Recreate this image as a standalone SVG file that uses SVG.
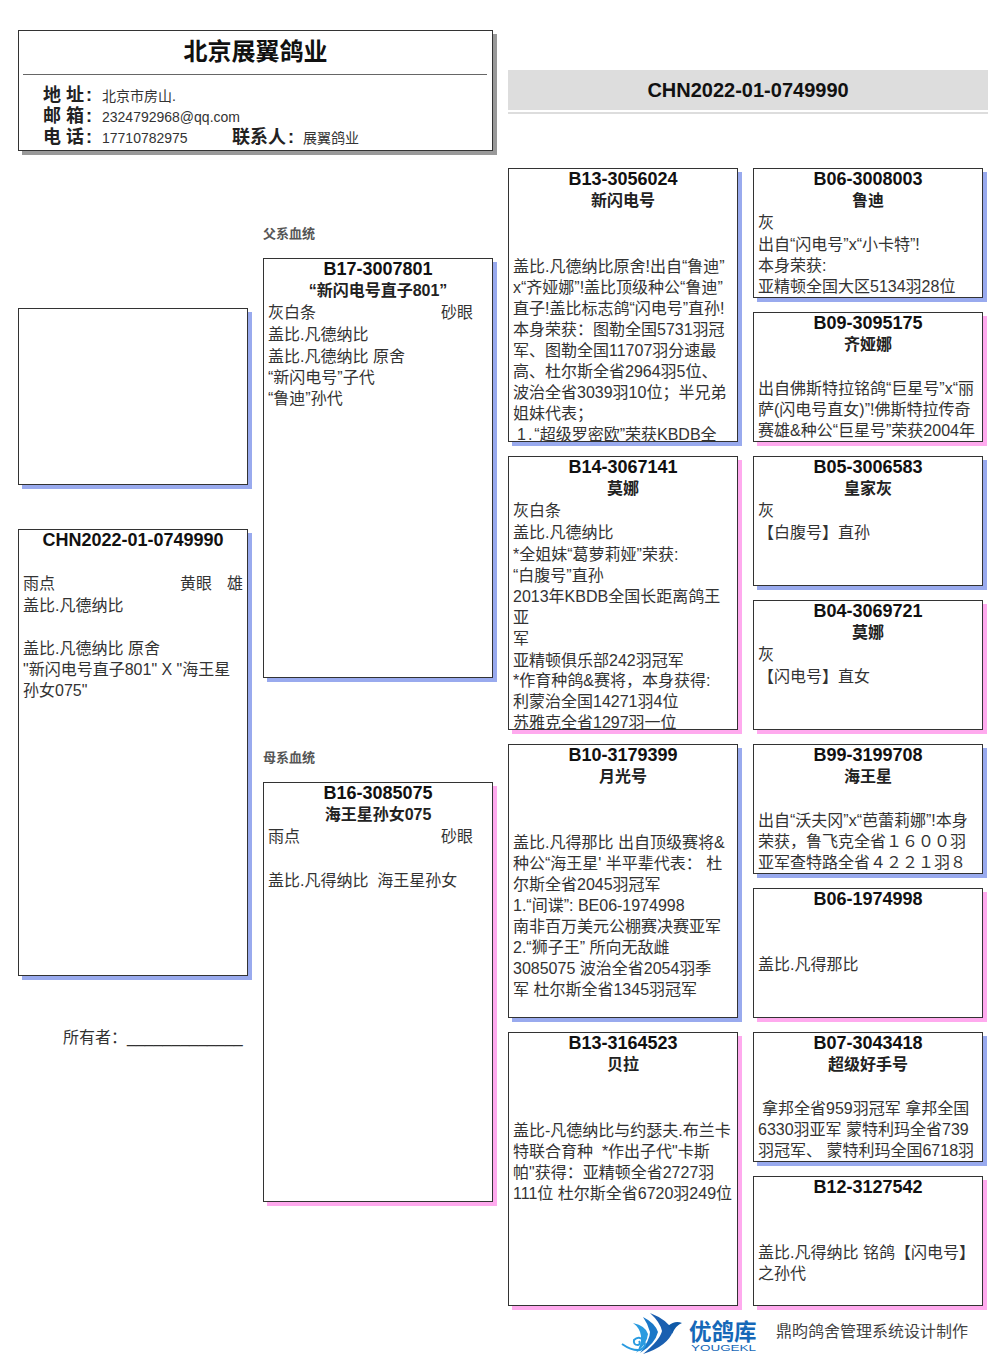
<svg xmlns="http://www.w3.org/2000/svg" width="1006" height="1366" viewBox="0 0 1006 1366">
<style>
text{font-family:"Liberation Sans","Noto Sans CJK SC",sans-serif;fill:#333}
.b{fill:#fff;stroke:#333;stroke-width:1}
.sb{fill:#99aaee}.sp{fill:#ffaaee}
.t{font-size:16px}
.h{font-size:18px;font-weight:700;text-anchor:middle;fill:#111}
.n{font-size:16px;font-weight:700;text-anchor:middle;fill:#222}
.l{font-size:13px;font-weight:700;fill:#555}
.k{font-size:18px;font-weight:700;fill:#222}
.v{font-size:14px;fill:#333}
</style>
<defs>
<clipPath id="c1"><rect x="509" y="169" width="228" height="272"/></clipPath>
<clipPath id="c2"><rect x="509" y="457" width="228" height="272"/></clipPath>
</defs>
<rect width="1006" height="1366" fill="#fff"/>
<g id="header">
<rect x="22" y="34" width="475" height="121" fill="#999"/>
<rect class="b" x="18.500" y="30.500" width="474" height="120"/>
<line x1="23" y1="74.500" x2="487" y2="74.500" stroke="#666"/>
<text x="255.500" y="60" text-anchor="middle" font-size="24" font-weight="700" style="fill:#111">北京展翼鸽业</text>
<text class="k" x="43" y="101" xml:space="preserve">地 址<tspan dx="2">:</tspan></text><text class="v" x="102" y="101">北京市房山.</text>
<text class="k" x="43" y="122" xml:space="preserve">邮 箱<tspan dx="2">:</tspan></text><text class="v" x="102" y="122">2324792968@qq.com</text>
<text class="k" x="43" y="143" xml:space="preserve">电 话<tspan dx="2">:</tspan></text><text class="v" x="102" y="143">17710782975</text>
<text class="k" x="232" y="143">联系人<tspan dx="2">:</tspan></text><text class="v" x="303" y="143">展翼鸽业</text>
</g>
<g id="ring-bar">
<rect x="508" y="70" width="480" height="40" fill="#ddd"/>
<rect x="508" y="112" width="480" height="2" fill="#ddd"/>
<text class="h" x="748" y="97" style="font-size:20px">CHN2022-01-0749990</text>
</g>
<g id="photo">
<rect class="sb" x="22" y="312" width="230" height="177"/>
<rect class="b" x="18.500" y="308.500" width="229" height="176"/>
</g>
<g id="self">
<rect class="sb" x="22" y="533" width="230" height="447"/>
<rect class="b" x="18.500" y="529.500" width="229" height="446"/>
<text class="h" x="133" y="546">CHN2022-01-0749990</text>
<text class="t" x="23" y="589">雨点</text><text class="t" x="180" y="589">黄眼</text><text class="t" x="227" y="589">雄</text>
<text class="t" x="23" y="611">盖比.凡德纳比</text>
<text class="t" x="23" y="654">盖比.凡德纳比 原舍</text>
<text class="t" x="23" y="675">"新闪电号直子801" X "海王星</text>
<text class="t" x="23" y="696">孙女075"</text>
</g>
<g id="owner"><text class="t" x="63" y="1043">所有者：</text><text class="t" x="127" y="1043">_____________</text></g>
<text class="l" x="263" y="238">父系血统</text>
<text class="l" x="263" y="762">母系血统</text>
<g id="B17-3007801">
<rect class="sb" x="267" y="262" width="230" height="420"/>
<rect class="b" x="263.500" y="258.500" width="229" height="419"/>
<text class="h" x="378" y="275">B17-3007801</text><text class="n" x="378" y="296">“新闪电号直子801”</text>
<text class="t" x="268" y="318">灰白条</text><text class="t" x="441" y="318">砂眼</text>
<text class="t" x="268" y="340">盖比.凡德纳比</text>
<text class="t" x="268" y="362">盖比.凡德纳比 原舍</text>
<text class="t" x="268" y="383">“新闪电号”子代</text>
<text class="t" x="268" y="404">“鲁迪”孙代</text>
</g>
<g id="B16-3085075">
<rect class="sp" x="267" y="786" width="230" height="420"/>
<rect class="b" x="263.500" y="782.500" width="229" height="419"/>
<text class="h" x="378" y="799">B16-3085075</text><text class="n" x="378" y="820">海王星孙女075</text>
<text class="t" x="268" y="842">雨点</text><text class="t" x="441" y="842">砂眼</text>
<text class="t" x="268" y="886" xml:space="preserve">盖比.凡得纳比  海王星孙女</text>
</g>
<g id="B13-3056024">
<rect class="sb" x="512" y="172" width="230" height="274"/>
<rect class="b" x="508.500" y="168.500" width="229" height="273"/>
<text class="h" x="623" y="185">B13-3056024</text><text class="n" x="623" y="206">新闪电号</text>
<g clip-path="url(#c1)">
<text class="t" x="513" y="272">盖比.凡德纳比原舍!出自“鲁迪”</text>
<text class="t" x="513" y="293">x“齐娅娜”!盖比顶级种公“鲁迪”</text>
<text class="t" x="513" y="314">直子!盖比标志鸽“闪电号”直孙!</text>
<text class="t" x="513" y="335">本身荣获：图勒全国5731羽冠</text>
<text class="t" x="513" y="356">军、图勒全国11707羽分速最</text>
<text class="t" x="513" y="377">高、杜尔斯全省2964羽5位、</text>
<text class="t" x="513" y="398">波治全省3039羽10位；半兄弟</text>
<text class="t" x="513" y="419">姐妹代表；</text>
<text class="t" x="517" y="440">1<tspan dx="2">.</tspan><tspan dx="2">“超级罗密欧”荣获KBDB全</tspan></text>
</g>
</g>
<g id="B06-3008003">
<rect class="sb" x="757" y="172" width="230" height="130"/>
<rect class="b" x="753.500" y="168.500" width="229" height="129"/>
<text class="h" x="868" y="185">B06-3008003</text><text class="n" x="868" y="206">鲁迪</text>
<text class="t" x="758" y="228">灰</text>
<text class="t" x="758" y="250">出自“闪电号”x“小卡特”!</text>
<text class="t" x="758" y="271">本身荣获:</text>
<text class="t" x="758" y="292">亚精顿全国大区5134羽28位</text>
</g>
<g id="B09-3095175">
<rect class="sp" x="757" y="316" width="230" height="130"/>
<rect class="b" x="753.500" y="312.500" width="229" height="129"/>
<text class="h" x="868" y="329">B09-3095175</text><text class="n" x="868" y="350">齐娅娜</text>
<text class="t" x="758" y="394">出自佛斯特拉铭鸽“巨星号”x“丽</text>
<text class="t" x="758" y="415">萨(闪电号直女)”!佛斯特拉传奇</text>
<text class="t" x="758" y="436">赛雄&amp;种公“巨星号”荣获2004年</text>
</g>
<g id="B14-3067141">
<rect class="sp" x="512" y="460" width="230" height="274"/>
<rect class="b" x="508.500" y="456.500" width="229" height="273"/>
<text class="h" x="623" y="473">B14-3067141</text><text class="n" x="623" y="494">莫娜</text>
<g clip-path="url(#c2)">
<text class="t" x="513" y="516">灰白条</text>
<text class="t" x="513" y="538">盖比.凡德纳比</text>
<text class="t" x="513" y="560">*全姐妹“葛萝莉娅”荣获:</text>
<text class="t" x="513" y="581">“白腹号”直孙</text>
<text class="t" x="513" y="602">2013年KBDB全国长距离鸽王</text>
<text class="t" x="513" y="623">亚</text>
<text class="t" x="513" y="644">军</text>
<text class="t" x="513" y="666">亚精顿俱乐部242羽冠军</text>
<text class="t" x="513" y="686">*作育种鸽&amp;赛将，本身获得:</text>
<text class="t" x="513" y="707">利蒙治全国14271羽4位</text>
<text class="t" x="513" y="728">苏雅克全省1297羽一位</text>
</g>
</g>
<g id="B05-3006583">
<rect class="sb" x="757" y="460" width="230" height="130"/>
<rect class="b" x="753.500" y="456.500" width="229" height="129"/>
<text class="h" x="868" y="473">B05-3006583</text><text class="n" x="868" y="494">皇家灰</text>
<text class="t" x="758" y="516">灰</text>
<text class="t" x="758" y="538">【白腹号】直孙</text>
</g>
<g id="B04-3069721">
<rect class="sp" x="757" y="604" width="230" height="130"/>
<rect class="b" x="753.500" y="600.500" width="229" height="129"/>
<text class="h" x="868" y="617">B04-3069721</text><text class="n" x="868" y="638">莫娜</text>
<text class="t" x="758" y="660">灰</text>
<text class="t" x="758" y="682">【闪电号】直女</text>
</g>
<g id="B10-3179399">
<rect class="sb" x="512" y="748" width="230" height="274"/>
<rect class="b" x="508.500" y="744.500" width="229" height="273"/>
<text class="h" x="623" y="761">B10-3179399</text><text class="n" x="623" y="782">月光号</text>
<text class="t" x="513" y="848">盖比.凡得那比 出自顶级赛将&amp;</text>
<text class="t" x="513" y="869">种公“海王星' 半平辈代表： 杜</text>
<text class="t" x="513" y="890">尔斯全省2045羽冠军</text>
<text class="t" x="513" y="911">1.“间谍”: BE06-1974998</text>
<text class="t" x="513" y="932">南非百万美元公棚赛决赛亚军</text>
<text class="t" x="513" y="953">2.“狮子王” 所向无敌雌</text>
<text class="t" x="513" y="974">3085075 波治全省2054羽季</text>
<text class="t" x="513" y="995">军 杜尔斯全省1345羽冠军</text>
</g>
<g id="B99-3199708">
<rect class="sb" x="757" y="748" width="230" height="130"/>
<rect class="b" x="753.500" y="744.500" width="229" height="129"/>
<text class="h" x="868" y="761">B99-3199708</text><text class="n" x="868" y="782">海王星</text>
<text class="t" x="758" y="826">出自“沃夫冈”x“芭蕾莉娜”!本身</text>
<text class="t" x="758" y="847">荣获，鲁飞克全省１６００羽</text>
<text class="t" x="758" y="868">亚军查特路全省４２２１羽８</text>
</g>
<g id="B06-1974998">
<rect class="sp" x="757" y="892" width="230" height="130"/>
<rect class="b" x="753.500" y="888.500" width="229" height="129"/>
<text class="h" x="868" y="905">B06-1974998</text>
<text class="t" x="758" y="970">盖比.凡得那比</text>
</g>
<g id="B13-3164523">
<rect class="sp" x="512" y="1036" width="230" height="274"/>
<rect class="b" x="508.500" y="1032.500" width="229" height="273"/>
<text class="h" x="623" y="1049">B13-3164523</text><text class="n" x="623" y="1070">贝拉</text>
<text class="t" x="513" y="1136">盖比-凡德纳比与约瑟夫.布兰卡</text>
<text class="t" x="513" y="1157" xml:space="preserve">特联合育种  *作出子代"卡斯</text>
<text class="t" x="513" y="1178">帕"获得：亚精顿全省2727羽</text>
<text class="t" x="513" y="1199">111位 杜尔斯全省6720羽249位</text>
</g>
<g id="B07-3043418">
<rect class="sb" x="757" y="1036" width="230" height="130"/>
<rect class="b" x="753.500" y="1032.500" width="229" height="129"/>
<text class="h" x="868" y="1049">B07-3043418</text><text class="n" x="868" y="1070">超级好手号</text>
<text class="t" x="762" y="1114">拿邦全省959羽冠军 拿邦全国</text>
<text class="t" x="758" y="1135">6330羽亚军 蒙特利玛全省739</text>
<text class="t" x="758" y="1156">羽冠军、 蒙特利玛全国6718羽</text>
</g>
<g id="B12-3127542">
<rect class="sp" x="757" y="1180" width="230" height="130"/>
<rect class="b" x="753.500" y="1176.500" width="229" height="129"/>
<text class="h" x="868" y="1193">B12-3127542</text>
<text class="t" x="758" y="1258">盖比.凡得纳比 铭鸽【闪电号】</text>
<text class="t" x="758" y="1279">之孙代</text>
</g>
<g id="logo">
<path d="M650 1313 Q668 1320 673 1331 Q668 1346 643 1354 Q660 1340 662 1331 Q660 1322 650 1313Z" fill="#1a5fb0"/>
<path d="M643 1317 Q655 1323 658 1332 Q655 1344 640 1353 Q650 1340 650 1332 Q648 1324 643 1317Z" fill="#1b78c8"/>
<path d="M633 1323 Q646 1326 648 1334 Q647 1344 636 1353 Q642 1344 641 1336 Q640 1328 633 1323Z" fill="#2a9be0"/>
<path d="M668 1326 Q675 1320 682 1323 Q676 1325 672 1334 Q672 1329 668 1326Z" fill="#0f5aa8"/>
<path d="M622 1344 Q632 1351 640 1350 Q647 1347 644 1341 Q639 1335 634 1340 Q633 1345 638 1345 Q641 1344 639 1341" fill="none" stroke="#2a9be0" stroke-width="2"/>
<text x="689" y="1340" font-size="22.500" font-weight="700" style="fill:#1668b8">优鸽库</text>
<text x="691" y="1351" font-size="9" textLength="65" lengthAdjust="spacingAndGlyphs" style="fill:#1668b8">YOUGEKL</text>
</g>
<text x="776" y="1337" font-size="16" style="fill:#444">鼎昀鸽舍管理系统设计制作</text>
</svg>
